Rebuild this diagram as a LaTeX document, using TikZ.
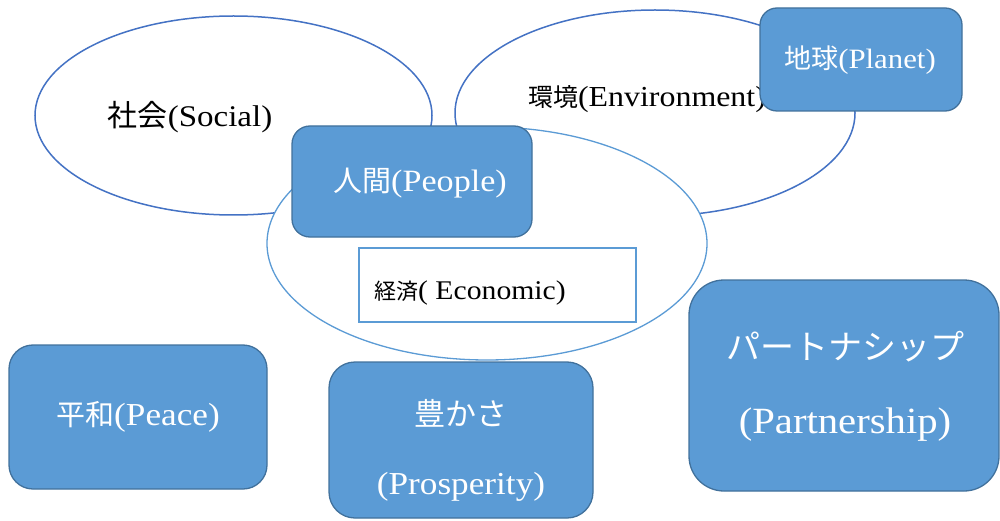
\documentclass[tikz,border=0pt]{standalone}
\usepackage{fontspec}
\setmainfont{Liberation Serif}
\newfontfamily\jp{Noto Sans CJK JP}
\newfontfamily\lat[FakeStretch=1.1]{Liberation Serif}
\usetikzlibrary{shapes.geometric}
\definecolor{bfill}{HTML}{5B9BD5}
\definecolor{bdraw}{HTML}{41719C}
\definecolor{eline}{HTML}{4472C4}
\newcommand\jtxt[2]{{\fontsize{#1}{#1}\selectfont\jp #2}}
\newcommand\ltxt[2]{{\fontsize{#1}{#1}\selectfont\lat #2}}
\begin{document}
\begin{tikzpicture}[x=1pt,y=1pt,
  oval/.style={ellipse, draw=eline, fill=white, line width=1.5pt, inner sep=0pt, outer sep=0pt},
  box/.style={draw=bdraw, fill=bfill, line width=1.3pt, inner sep=0pt},
  wt/.style={text=white, inner sep=0pt},
  bt/.style={text=black, inner sep=0pt}]
\useasboundingbox (0,0) rectangle (1000,520);
% ellipses
\node[oval, minimum width=397, minimum height=199] (social) at (233.5,404.5) {};
\node[bt] (socialT) at (190,403) {\jtxt{30}{社会}\ltxt{30}{(Social)}};
\node[oval, minimum width=400, minimum height=206] (env) at (655,407) {};
\node[bt] (envT) at (647,421) {\jtxt{25}{環境}\ltxt{29}{(Environment)}};
\node[oval, draw=bfill, line width=1.3pt, minimum width=440, minimum height=233] (econ) at (487,276.5) {};
% people
\node[box, rounded corners=18, minimum width=240, minimum height=111] (people) at (412,338.5) {};
\node[wt] (peopleT) at (420,337) {\jtxt{29}{人間}\ltxt{31}{(People)}};
% economic box
\node[draw=bfill, fill=white, line width=1.3pt, inner sep=0pt, minimum width=277, minimum height=74] (econbox) at (497.5,235) {};
\node[bt, anchor=west] (econT) at (374,227) {\jtxt{22}{経済}\ltxt{27}{( Economic)}};
% planet
\node[box, rounded corners=17, minimum width=202, minimum height=103] (planet) at (861,460.5) {};
\node[wt] (planetT) at (860,460) {\jtxt{27}{地球}\ltxt{28}{(Planet)}};
% peace
\node[box, rounded corners=24, minimum width=258, minimum height=144] (peace) at (138,103) {};
\node[wt] (peaceT) at (138,103) {\jtxt{29}{平和}\ltxt{32}{(Peace)}};
% prosperity
\node[box, rounded corners=26, minimum width=264, minimum height=156] (prosp) at (461,80) {};
\node[wt] (prospT1) at (461,107) {\jtxt{31}{豊かさ}};
\node[wt] (prospT2) at (461,33) {\ltxt{32}{(Prosperity)}};
% partnership
\node[box, rounded corners=35, minimum width=310, minimum height=211] (partner) at (844,134.5) {};
\node[wt] (partnerT1) at (845,173) {\jtxt{34}{パートナシップ}};
\node[wt] (partnerT2) at (845,95) {\ltxt{37}{(Partnership)}};
\end{tikzpicture}
\end{document}
